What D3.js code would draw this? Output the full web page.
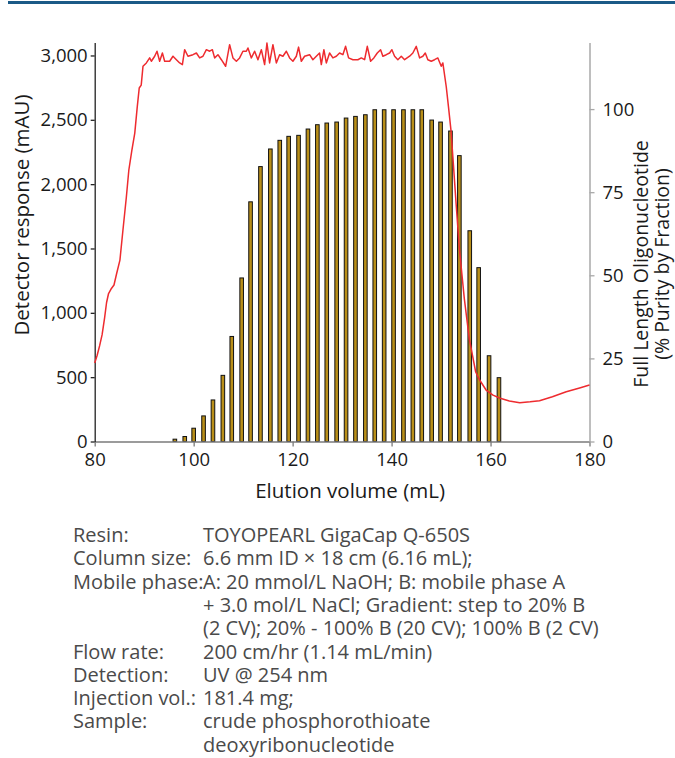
<!DOCTYPE html>
<html>
<head>
<meta charset="utf-8">
<script src="https://cdn.jsdelivr.net/npm/d3@7"></script>
<style>
  body { margin: 0; background: #fff; }
  svg { display: block; font-family: "Open Sans", "Liberation Sans", Arial, sans-serif; }
</style>
</head>
<body>
<svg id="chart"></svg>
<script>
// fraction centres (mL) and purity of each fraction (%)
const fractionVolumes = [96.2, 98.2, 100.0, 102.0, 103.9, 105.9, 107.7, 109.7, 111.5, 113.5,
  115.5, 117.4, 119.2, 121.2, 123.1, 125.0, 126.9, 128.9, 130.8, 132.7, 134.7, 136.6,
  138.5, 140.4, 142.4, 144.3, 146.1, 148.1, 149.9, 151.9, 153.7, 155.8, 157.6, 159.7, 161.7];
const fractionPurity = [0.7, 1.5, 4.0, 7.7, 12.5, 19.9, 31.6, 49.2, 72.1, 82.7,
  88.0, 90.6, 91.8, 92.1, 94.0, 95.3, 95.8, 96.1, 97.3, 97.8, 98.3,
  99.8, 99.8, 99.8, 99.8, 99.8, 99.8, 96.7, 96.1, 93.4, 86.0, 63.4, 52.3, 25.8, 19.2];

// UV trace: elution volume (mL) and detector response (mAU)
const traceVolume = [80.0, 80.5, 81.0, 81.5, 82.0, 82.4, 82.8, 83.3, 83.9, 84.4, 85.1, 85.7,
  86.4, 86.9, 87.5, 88.1, 88.6, 89.0, 89.4, 89.76, 90.44, 91.11, 91.45, 92.12, 92.59, 93.13,
  93.68, 94.14, 95.15, 95.82, 96.51, 97.17, 97.72, 98.18, 98.85, 99.86, 100.55, 101.21, 101.88,
  102.57, 103.23, 103.78, 104.24, 104.91, 105.6, 106.46, 107.27, 107.94, 108.63, 109.29, 109.96,
  110.65, 110.97, 111.66, 112.32, 112.99, 113.68, 114.34, 114.81, 115.35, 116.02, 116.71, 117.37,
  118.04, 118.73, 119.39, 120.06, 120.75, 121.2, 121.76, 122.42, 123.43, 124.1, 124.79, 125.45,
  125.8, 126.32, 126.81, 127.47, 128.14, 128.83, 129.49, 130.16, 130.71, 131.31, 132.18, 133.19,
  133.88, 134.55, 135.09, 135.76, 136.42, 137.11, 137.78, 138.24, 138.93, 139.6, 140.06, 140.61,
  141.27, 141.96, 142.63, 143.64, 144.3, 144.99, 145.66, 146.32, 146.81, 147.33, 148.02, 148.69,
  149.35, 150.04, 150.36, 151.05, 151.5, 152.0, 152.5, 153.0, 153.7, 154.7, 155.7, 157.0, 157.8,
  159.1, 160.5, 161.8, 163.8, 165.9, 168.0, 169.9, 172.5, 175.3, 178.0, 180.0];
const traceResponse = [610, 670, 745, 830, 960, 1080, 1150, 1185, 1216, 1300, 1410, 1640,
  1900, 2110, 2260, 2397, 2600, 2747, 2770, 2916, 2942, 2981, 2955, 2994, 3033, 2955,
  3019, 2955, 2955, 2994, 2967, 2942, 2929, 3045, 2994, 3006, 3019, 2981, 2994,
  3045, 3033, 3045, 2981, 3006, 2967, 2916, 3084, 2981, 2955, 2981, 3033,
  3033, 3058, 2981, 3033, 2967, 3045, 2929, 3097, 2942, 3084, 2942, 3006,
  2994, 3033, 2981, 2955, 2994, 3065, 2955, 2994, 3006, 2967, 2994, 3019,
  2929, 3045, 2942, 3019, 2981, 2994, 3019, 3006, 3071, 2981, 2967, 2967,
  2981, 2967, 3071, 2955, 2981, 3019, 3045, 2994, 3006, 3019, 3045, 2994,
  2967, 2994, 2967, 2994, 3019, 3071, 2981, 2994, 3019, 2967, 2955, 2967,
  2981, 2916, 2942, 2757, 2600, 2420, 2150, 1870, 1500, 1110, 800, 540, 478,
  400, 360, 338, 315, 302, 308, 317, 348, 387, 416, 439];

const xTicks = [80, 100, 120, 140, 160, 180];
const leftTicks = [0, 500, 1000, 1500, 2000, 2500, 3000];
const rightTicks = [0, 25, 50, 75, 100];

const conditions = [
  ["Resin:", "TOYOPEARL GigaCap Q-650S"],
  ["Column size:", "6.6 mm ID × 18 cm (6.16 mL);"],
  ["Mobile phase:", "A: 20 mmol/L NaOH; B: mobile phase A"],
  ["", "+ 3.0 mol/L NaCl; Gradient: step to 20% B"],
  ["", "(2 CV); 20% - 100% B (20 CV); 100% B (2 CV)"],
  ["Flow rate:", "200 cm/hr (1.14 mL/min)"],
  ["Detection:", "UV @ 254 nm"],
  ["Injection vol.:", "181.4 mg;"],
  ["Sample:", "crude phosphorothioate"],
  ["", "deoxyribonucleotide"],
];

const width = 675;
const height = 758;
const plot = { left: 94.7, right: 589.5, top: 42.6, bottom: 441.5 };

const svg = d3.select("#chart").attr("width", width).attr("height", height);

svg.append("rect")
  .attr("x", 8).attr("y", 1).attr("width", width - 8).attr("height", 3)
  .attr("fill", "#1b5a87");

const x = d3.scaleLinear().domain([80, 180]).range([plot.left, plot.right]);
const yLeft = d3.scaleLinear().domain([0, 3100]).range([plot.bottom, plot.top]);
const yRight = d3.scaleLinear().domain([0, 120]).range([plot.bottom, plot.top]);

// bars (purity, right axis)
const barW = 3.6;
svg.append("g")
  .attr("fill", "#b98f19")
  .attr("stroke", "#111")
  .attr("stroke-width", 1)
  .selectAll("rect")
  .data(fractionVolumes)
  .join("rect")
  .attr("x", (d) => x(d) - barW / 2)
  .attr("y", (d, i) => yRight(fractionPurity[i]))
  .attr("width", barW)
  .attr("height", (d, i) => plot.bottom - yRight(fractionPurity[i]));

// axes
const styleAxis = (g, color, size) => {
  g.attr("font-family", null).attr("font-size", size);
  g.select(".domain").attr("stroke", color).attr("stroke-width", 1.3);
  g.selectAll(".tick line").attr("stroke", color).attr("stroke-width", 1.3);
  g.selectAll(".tick text").attr("fill", "#1a1a1a");
};

const xAxis = svg.append("g")
  .attr("transform", `translate(0,${plot.bottom})`)
  .call(d3.axisBottom(x).tickValues(xTicks).tickSize(5).tickSizeOuter(0).tickFormat(d3.format("d")));
styleAxis(xAxis, "#7a7a7a", 18.5);
xAxis.selectAll(".tick text").attr("dy", "0.9em");

const leftAxis = svg.append("g")
  .attr("transform", `translate(${plot.left},0)`)
  .call(d3.axisLeft(yLeft).tickValues(leftTicks).tickSize(4).tickSizeOuter(0).tickPadding(3).tickFormat(d3.format(",")));
styleAxis(leftAxis, "#222", 18.5);

const rightAxis = svg.append("g")
  .attr("transform", `translate(${plot.right},0)`)
  .call(d3.axisRight(yRight).tickValues(rightTicks).tickSize(5).tickSizeOuter(0).tickPadding(8));
styleAxis(rightAxis, "#a8a8a8", 18.5);
rightAxis.select(".domain").attr("stroke-width", 1.5);

// UV trace (left axis)
const line = d3.line()
  .x((d) => x(d))
  .y((d, i) => yLeft(traceResponse[i]));
svg.append("path")
  .attr("d", line(traceVolume))
  .attr("fill", "none")
  .attr("stroke", "#ee2b2f")
  .attr("stroke-width", 1.5)
  .attr("stroke-linejoin", "round");

// titles
svg.append("text")
  .attr("x", (plot.left + plot.right) / 2 + 8).attr("y", 498)
  .attr("text-anchor", "middle").attr("font-size", 20.5).attr("fill", "#1a1a1a")
  .text("Elution volume (mL)");

svg.append("text")
  .attr("transform", "translate(29,215) rotate(-90)")
  .attr("text-anchor", "middle").attr("font-size", 20.5).attr("fill", "#1a1a1a")
  .text("Detector response (mAU)");

const rightTitle = svg.append("text")
  .attr("transform", "translate(648,264) rotate(-90)")
  .attr("text-anchor", "middle").attr("font-size", 19.5).attr("fill", "#1a1a1a");
rightTitle.append("tspan").attr("x", 0).attr("y", 0).text("Full Length Oligonucleotide");
rightTitle.append("tspan").attr("x", 0).attr("y", 21).text("(% Purity by Fraction)");

// run conditions
const info = svg.append("g")
  .attr("font-size", 20)
  .attr("fill", "#4a4a4a")
  .selectAll("g")
  .data(conditions)
  .join("g")
  .attr("transform", (d, i) => `translate(0,${542 + i * 23.3})`);
info.append("text").attr("x", 73).text((d) => d[0]);
info.append("text").attr("x", 203).text((d) => d[1]);
</script>
</body>
</html>
